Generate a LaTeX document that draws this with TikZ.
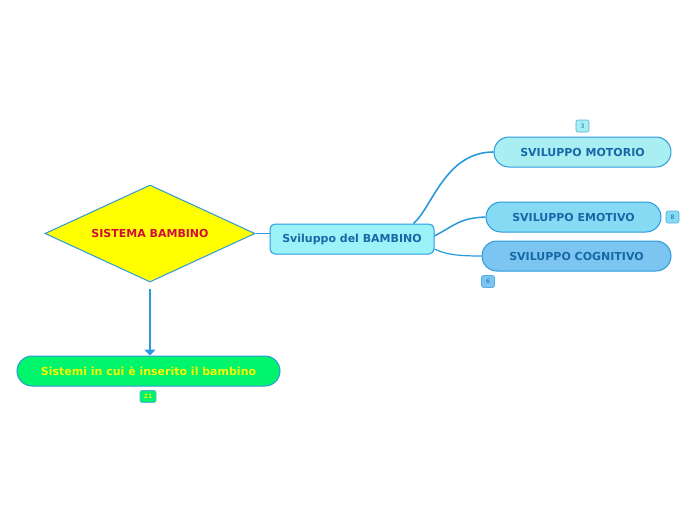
\documentclass[tikz,border=0pt]{standalone}
\usepackage{fontspec}
\setmainfont{DejaVu Sans}
\usetikzlibrary{shapes.geometric,arrows.meta}
\definecolor{edge}{HTML}{2A9ADC}
\definecolor{tdark}{HTML}{1868A8}
\definecolor{cMot}{HTML}{A8EEF3}
\definecolor{cEmo}{HTML}{86DAF3}
\definecolor{cCog}{HTML}{7CC5F1}
\definecolor{cSvil}{HTML}{9BF2F8}
\definecolor{cGreen}{HTML}{00F46C}
\definecolor{cYel}{HTML}{FFFF00}
\definecolor{tYel}{HTML}{F8F800}
\definecolor{tRed}{HTML}{D0103A}
\tikzset{
  pill/.style={draw=edge, line width=1pt, rounded corners=15pt, minimum height=30pt,
    font=\fontsize{11}{13}\selectfont\bfseries, text=tdark, inner sep=0pt},
  badge/.style={draw=edge!80, line width=0.6pt, rounded corners=2pt, fill=cMot,
    minimum width=13pt, minimum height=12pt, inner sep=0pt,
    font=\fontsize{6}{7}\selectfont, text=tdark},
  conn/.style={draw=edge, line width=1.2pt},
}
\begin{document}
\begin{tikzpicture}[x=1pt,y=-1pt]
\useasboundingbox[fill=white] (0,0) rectangle (696,520);
% main diamond
\node[diamond, draw=edge, line width=1pt, fill=cYel, aspect=2.165,
  minimum width=210pt, minimum height=97pt, inner sep=0pt,
  font=\fontsize{11}{13}\selectfont\bfseries, text=tRed] (sys) at (150,233.5) {SISTEMA BAMBINO};
% central box
\node[draw=edge, line width=1pt, fill=cSvil, rounded corners=5pt,
  minimum width=164pt, minimum height=30pt, inner sep=0pt,
  font=\fontsize{11}{13}\selectfont\bfseries, text=tdark] (svil) at (352,239) {Sviluppo del BAMBINO};
% branches
\node[pill, fill=cMot, minimum width=177pt] (mot) at (582.5,152) {SVILUPPO MOTORIO};
\node[pill, fill=cEmo, minimum width=175pt] (emo) at (573.5,217) {SVILUPPO EMOTIVO};
\node[pill, fill=cCog, minimum width=189pt] (cog) at (576.5,256) {SVILUPPO COGNITIVO};
\node[pill, fill=cGreen, minimum width=263pt, text=tYel] (ctx) at (148.5,371) {Sistemi in cui è inserito il bambino};
% badges
\node[badge] (b3) at (582.5,126) {3};
\node[badge, fill=cEmo] (b8) at (672.5,217) {8};
\node[badge, fill=cCog] (b6) at (488,281.5) {6};
\node[badge, fill=cGreen, text=tYel, minimum width=16pt, font=\fontsize{6}{7}\selectfont\bfseries] (b21) at (148,396.5) {21};
% connectors
\draw[conn, line width=0.9pt] (sys.east) -- (svil.west |- sys.east);
\draw[conn, line width=1.6pt] ([xshift=-21pt]svil.north east) .. controls (432,208) and (445,152) .. (mot.west);
\draw[conn, line width=1.5pt] ([yshift=3pt]svil.east) .. controls (455,225) and (460,218) .. (emo.west);
\draw[conn, line width=1.2pt] ([yshift=-10pt]svil.east) .. controls (445,254) and (455,256) .. (cog.west);
\draw[conn, line width=1.6pt, -{Triangle[length=6pt,width=11pt]}] ([yshift=-6pt]sys.south) -- (ctx.north -| sys.south);
\end{tikzpicture}
\end{document}
